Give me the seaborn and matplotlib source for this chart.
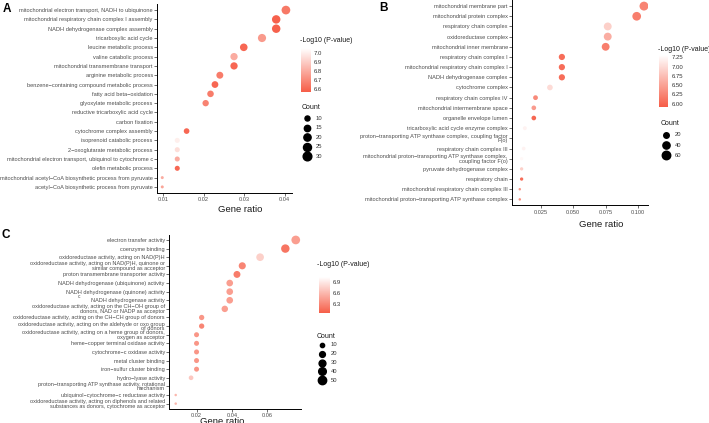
import numpy as np
import pandas as pd
import matplotlib
matplotlib.use("Agg")
import matplotlib.pyplot as plt
import seaborn as sns
from matplotlib.colors import LinearSegmentedColormap, Normalize
from matplotlib.colorbar import ColorbarBase
from matplotlib.lines import Line2D

# ---------------- data ----------------
a_terms = [
    "mitochondrial electron transport, NADH to ubiquinone",
    "mitochondrial respiratory chain complex I assembly",
    "NADH dehydrogenase complex assembly",
    "tricarboxylic acid cycle",
    "leucine metabolic process",
    "valine catabolic process",
    "mitochondrial transmembrane transport",
    "arginine metabolic process",
    "benzene\u2212containing compound metabolic process",
    "fatty acid beta\u2212oxidation",
    "glyoxylate metabolic process",
    "reductive tricarboxylic acid cycle",
    "carbon fixation",
    "cytochrome complex assembly",
    "isoprenoid catabolic process",
    "2\u2212oxoglutarate metabolic process",
    "mitochondrial electron transport, ubiquinol to cytochrome c",
    "olefin metabolic process",
    "mitochondrial acetyl\u2212CoA biosynthetic process from pyruvate",
    "acetyl\u2212CoA biosynthetic process from pyruvate",
]
a_ratio = [0.0403, 0.0379, 0.0379, 0.0344, 0.0299, 0.0275, 0.0275, 0.0240, 0.0228, 0.0217,
           0.0205, 0.0190, 0.0190, 0.0158, 0.0135, 0.0135, 0.0135, 0.0135, 0.0098, 0.0098]
a_count = [30, 28, 28, 26, 22, 20, 20, 18, 17, 16, 15, 14, 14, 12, 10, 10, 10, 10, 7, 7]
a_logp = [6.65, 6.58, 6.58, 6.75, 6.60, 6.80, 6.60, 6.66, 6.60, 6.66,
          6.68, 7.10, 7.10, 6.60, 7.00, 6.95, 6.80, 6.60, 6.80, 6.78]
a_cbar_ticks = [6.6, 6.7, 6.8, 6.9, 7.0]
a_size_breaks = [10, 15, 20, 25, 30]
a_xticks = [0.01, 0.02, 0.03, 0.04]

b_terms = [
    "mitochondrial membrane part",
    "mitochondrial protein complex",
    "respiratory chain complex",
    "oxidoreductase complex",
    "mitochondrial inner membrane",
    "respiratory chain complex I",
    "mitochondrial respiratory chain complex I",
    "NADH dehydrogenase complex",
    "cytochrome complex",
    "respiratory chain complex IV",
    "mitochondrial intermembrane space",
    "organelle envelope lumen",
    "tricarboxylic acid cycle enzyme complex",
    "proton\u2212transporting ATP synthase complex, coupling factor\nF(o)",
    "respiratory chain complex III",
    "mitochondrial proton\u2212transporting ATP synthase complex,\ncoupling factor F(o)",
    "pyruvate dehydrogenase complex",
    "respiratory chain",
    "mitochondrial respiratory chain complex III",
    "mitochondrial proton\u2212transporting ATP synthase complex",
]
b_ratio = [0.1046, 0.0990, 0.0767, 0.0767, 0.0751, 0.0414, 0.0414, 0.0414, 0.0322, 0.0211,
           0.0198, 0.0198, 0.0129, 0.0115, 0.0120, 0.0104, 0.0104, 0.0104, 0.0090, 0.0090]
b_count = [68, 64, 50, 50, 49, 27, 27, 27, 21, 14, 13, 13, 9, 8, 8, 7, 7, 7, 6, 6]
b_logp = [6.25, 6.20, 6.90, 6.60, 6.20, 6.05, 6.05, 6.05, 7.00, 6.30,
          6.45, 6.00, 7.20, 7.35, 7.20, 7.25, 6.90, 6.05, 6.45, 6.35]
b_cbar_ticks = [6.00, 6.25, 6.50, 6.75, 7.00, 7.25]
b_size_breaks = [20, 40, 60]
b_xticks = [0.025, 0.050, 0.075, 0.100]

c_terms = [
    "electron transfer activity",
    "coenzyme binding",
    "oxidoreductase activity, acting on NAD(P)H",
    "oxidoreductase activity, acting on NAD(P)H, quinone or\nsimilar compound as acceptor",
    "proton transmembrane transporter activity",
    "NADH dehydrogenase (ubiquinone) activity",
    "NADH dehydrogenase (quinone) activity",
    "NADH dehydrogenase activity",
    "oxidoreductase activity, acting on the CH\u2212OH group of\ndonors, NAD or NADP as acceptor",
    "oxidoreductase activity, acting on the CH\u2212CH group of donors",
    "oxidoreductase activity, acting on the aldehyde or oxo group\nof donors",
    "oxidoreductase activity, acting on a heme group of donors,\noxygen as acceptor",
    "heme\u2212copper terminal oxidase activity",
    "cytochrome\u2212c oxidase activity",
    "metal cluster binding",
    "iron\u2212sulfur cluster binding",
    "hydro\u2212lyase activity",
    "proton\u2212transporting ATP synthase activity, rotational\nmechanism",
    "ubiquinol\u2212cytochrome\u2212c reductase activity",
    "oxidoreductase activity, acting on diphenols and related\nsubstances as donors, cytochrome as acceptor",
]
c_ratio = [0.0761, 0.0702, 0.0559, 0.0458, 0.0428, 0.0387, 0.0387, 0.0387, 0.0359, 0.0228,
           0.0228, 0.0199, 0.0199, 0.0199, 0.0199, 0.0199, 0.0168, 0.0130, 0.0081, 0.0081]
c_count = [55, 51, 40, 33, 31, 28, 28, 28, 26, 16, 16, 14, 14, 14, 14, 14, 12, 9, 6, 6]
c_logp = [6.45, 6.20, 6.75, 6.30, 6.25, 6.45, 6.45, 6.45, 6.45, 6.40,
          6.30, 6.40, 6.40, 6.40, 6.40, 6.40, 6.70, 7.10, 6.60, 6.60]
c_cbar_ticks = [6.3, 6.6, 6.9]
c_size_breaks = [10, 20, 30, 40, 50]
c_xticks = [0.02, 0.04, 0.06]

# ---------------- style ----------------
sns.set_theme(style="ticks")
plt.rcParams['font.family'] = ['Liberation Sans', 'DejaVu Sans']

W, H = 709, 423
fig = plt.figure(figsize=(W / 100, H / 100), dpi=100)
cmap = LinearSegmentedColormap.from_list("redwhite", ["#F65E48", "#FFFFFF"])


def rect(l, t, r, b):
    return [l / W, 1 - b / H, (r - l) / W, (b - t) / H]


def fx(x):
    return x / W


def fy(y):
    return 1 - y / H


def diam_px(c, cmin, cmax, dmin, dmax):
    r = np.clip((np.asarray(c, float) - cmin) / (cmax - cmin), 0, 1)
    return dmin + (dmax - dmin) * np.sqrt(r)


def panel(terms, ratio, count, logp, axrect, xlim, xticks, xfmt, vlim, dmin, dmax,
          cb_rect, cb_ticks, cb_fmt, title_xy, breaks, leg_x, leg_y0, leg_dy, count_title_y,
          xlabel_xy, letter, letter_xy, ylab_size=4.1):
    df = pd.DataFrame({"term": terms, "ratio": ratio, "count": count, "logp": logp})
    cmin, cmax = min(count), max(count)
    sizes = {c: (diam_px(c, cmin, cmax, dmin, dmax) * 0.72) ** 2 for c in sorted(set(count))}
    ax = fig.add_axes(rect(*axrect))
    sns.scatterplot(data=df, x="ratio", y="term", hue="logp", size="count",
                    palette=cmap, hue_norm=vlim, sizes=sizes, linewidth=0,
                    legend=False, ax=ax, zorder=3)
    n = len(terms)
    ax.set_ylim(n - 1 + 0.6, -0.6)
    ax.set_xlim(*xlim)
    ax.set_xticks(xticks)
    ax.set_xticklabels([xfmt.format(v) for v in xticks])
    ax.set_xlabel("")
    ax.set_ylabel("")
    sns.despine(ax=ax)
    for s in ["left", "bottom"]:
        ax.spines[s].set_linewidth(0.7)
        ax.spines[s].set_color("black")
    ax.tick_params(axis="y", labelsize=ylab_size, length=2, width=0.5, pad=1,
                   labelcolor="#4D4D4D", color="#333333")
    ax.tick_params(axis="x", labelsize=4.1, length=2, width=0.5, pad=1.2,
                   labelcolor="#4D4D4D", color="#333333")
    for t in ax.get_yticklabels():
        t.set_linespacing(0.85)

    # colour bar
    cax = fig.add_axes(rect(*cb_rect))
    cb = ColorbarBase(cax, cmap=cmap, norm=Normalize(*vlim), ticks=cb_ticks)
    cb.outline.set_visible(False)
    cb.set_ticklabels([cb_fmt.format(v) for v in cb_ticks])
    cax.tick_params(length=1.8, width=0.5, color="white", direction="in",
                    labelsize=4.3, labelcolor="#333333", pad=2.5)
    fig.text(fx(title_xy[0]), fy(title_xy[1]), "-Log10 (P-value)", fontsize=5.0,
             ha="left", va="center", color="#1A1A1A")

    # size legend
    fig.text(fx(leg_x - 5), fy(count_title_y), "Count", fontsize=5.0, ha="left",
             va="center", color="#1A1A1A")
    for i, b in enumerate(breaks):
        y = leg_y0 + i * leg_dy
        d = diam_px(b, cmin, cmax, dmin, dmax) * 0.72
        fig.add_artist(Line2D([fx(leg_x)], [fy(y)], marker="o", markersize=d,
                              color="black", linestyle="", transform=fig.transFigure))
        fig.text(fx(leg_x + 9), fy(y), str(b), fontsize=4.2, ha="left", va="center",
                 color="#333333")

    fig.text(fx(xlabel_xy[0]), fy(xlabel_xy[1]), "Gene ratio", fontsize=6.8,
             ha="center", va="center", color="#1A1A1A")
    fig.text(fx(letter_xy[0]), fy(letter_xy[1]), letter, fontsize=8.5,
             fontweight="bold", ha="left", va="top", color="black")
    return ax


panel(a_terms, a_ratio, a_count, a_logp,
      axrect=(157, 4.5, 292, 192.5), xlim=(0.0085, 0.0418), xticks=a_xticks, xfmt="{:.2f}",
      vlim=(6.57, 7.05), dmin=3.0, dmax=8.7,
      cb_rect=(300.7, 48.3, 310.5, 91.7), cb_ticks=a_cbar_ticks, cb_fmt="{:.1f}",
      title_xy=(300.5, 40.7), breaks=a_size_breaks, leg_x=307, leg_y0=118, leg_dy=9.6,
      count_title_y=107.7, xlabel_xy=(240, 209), letter="A", letter_xy=(3, 3))

panel(b_terms, b_ratio, b_count, b_logp,
      axrect=(512, 0, 648, 205.5), xlim=(0.0030, 0.1077), xticks=b_xticks, xfmt="{:.3f}",
      vlim=(5.92, 7.31), dmin=2.5, dmax=8.9,
      cb_rect=(659, 55, 668, 106.7), cb_ticks=b_cbar_ticks, cb_fmt="{:.2f}",
      title_xy=(658.5, 49), breaks=b_size_breaks, leg_x=665.7, leg_y0=135, leg_dy=10.2,
      count_title_y=123.3, xlabel_xy=(601, 224.5), letter="B", letter_xy=(379, 2))

axc = panel(c_terms, c_ratio, c_count, c_logp,
            axrect=(169, 234.8, 300.7, 408.8), xlim=(0.0043, 0.0789), xticks=c_xticks,
            xfmt="{:.2f}", vlim=(6.06, 7.04), dmin=2.5, dmax=8.7,
            cb_rect=(319.3, 277, 329.5, 313), cb_ticks=c_cbar_ticks, cb_fmt="{:.1f}",
            title_xy=(317, 265), breaks=c_size_breaks, leg_x=321.5, leg_y0=345, leg_dy=8.8,
            count_title_y=336, xlabel_xy=(222, 421.5), letter="C", letter_xy=(2, 229),
            ylab_size=4.0)

# stray character present in the reference panel C
fig.text(fx(79), fy(296.5), "c", fontsize=3.5, ha="center", va="center", color="#4D4D4D")

fig.savefig("out.png", dpi=100)
